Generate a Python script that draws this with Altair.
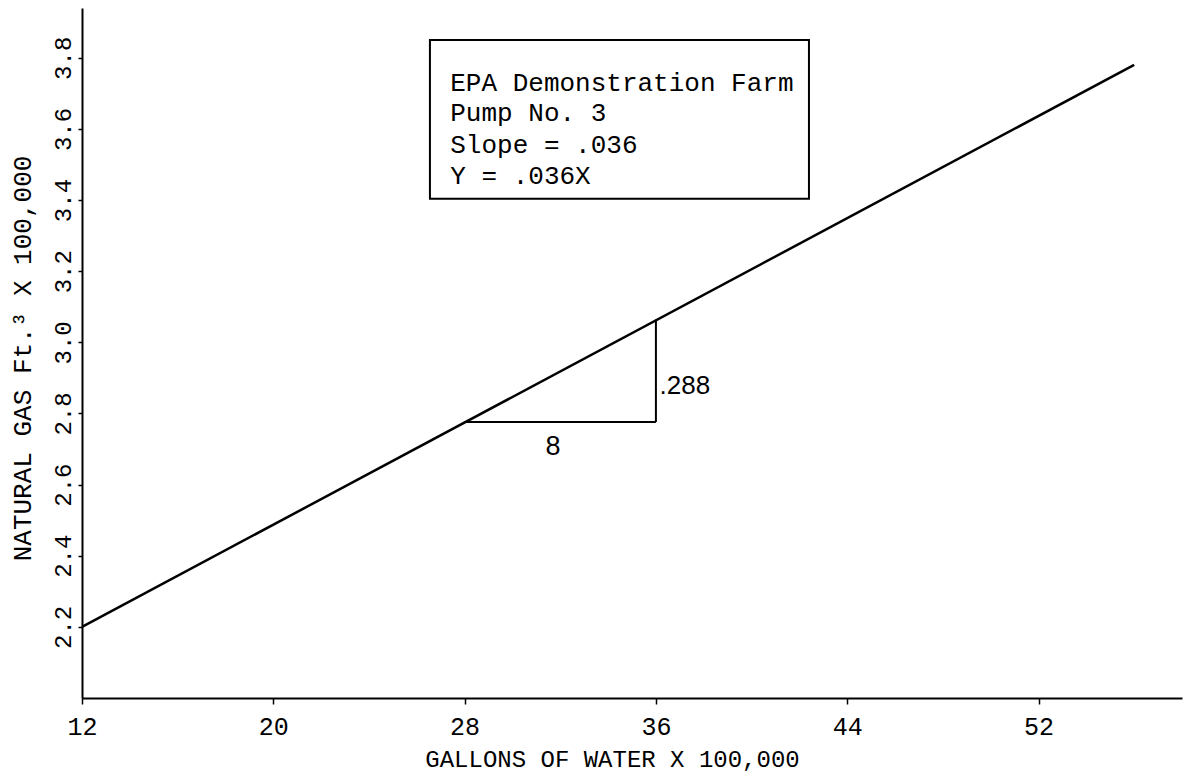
import altair as alt
import pandas as pd

# ---- data ----
X_TICKS = [12, 20, 28, 36, 44, 52]
Y_TICKS = [2.2, 2.4, 2.6, 2.8, 3.0, 3.2, 3.4, 3.6, 3.8]

LINE_X = [12, 56]
LINE_Y = [2.2, 3.78]

# slope triangle (run of 8, rise of .288)
TRI_X = [28, 36]
TRI_X2 = [36, 36]
TRI_Y = [2.776, 2.776]
TRI_Y2 = [2.776, 3.064]

TRI_LABELS = [".288", "8"]
TRI_LABEL_X = [36.15, 31.7]
TRI_LABEL_Y = [2.876, 2.707]

# legend box
BOX_X = [26.55]
BOX_X2 = [42.4]
BOX_Y = [3.404]
BOX_Y2 = [3.85]
BOX_LINES = ["EPA Demonstration Farm", "Pump No. 3", "Slope = .036", "Y = .036X"]
BOX_LINE_X = [27.4, 27.4, 27.4, 27.4]
BOX_LINE_Y = [3.73, 3.644, 3.555, 3.468]

X_TITLE = "GALLONS OF WATER X 100,000"
Y_TITLE = "NATURAL GAS Ft.\u00b3 X 100,000"

MONO = "Liberation Mono"
SANS = "Liberation Sans"

xs = alt.Scale(domain=[12, 58.0], nice=False, zero=False)
ys = alt.Scale(domain=[2.0, 3.94], nice=False, zero=False)

x_axis = alt.Axis(
    values=X_TICKS, title=X_TITLE, grid=False,
    labelFont=MONO, labelFontSize=25, labelColor="black", labelPadding=10,
    labelFlush=False, tickSize=6, tickColor="black", tickWidth=1.5,
    domainColor="black", domainWidth=2,
    titleFont=MONO, titleFontSize=24, titleFontWeight="normal", titleColor="black",
    titleX=530, titleY=61, titleBaseline="middle", titleAlign="center",
)
y_axis = alt.Axis(
    values=Y_TICKS, format=".1f", title=Y_TITLE, grid=False,
    labelFont=MONO, labelFontSize=24, labelColor="black", labelAngle=270,
    labelAlign="center", labelBaseline="bottom", labelPadding=3,
    tickSize=4, tickColor="black", tickWidth=1.5,
    domainColor="black", domainWidth=2,
    titleFont=MONO, titleFontSize=26, titleFontWeight="normal", titleColor="black",
    titleAngle=270, titleX=-60, titleY=350, titleAlign="center", titleBaseline="middle",
)

line_df = pd.DataFrame({"x": LINE_X, "y": LINE_Y})
line = alt.Chart(line_df).mark_line(color="black", strokeWidth=2.5).encode(
    x=alt.X("x:Q", scale=xs, axis=x_axis),
    y=alt.Y("y:Q", scale=ys, axis=y_axis),
)

tri_df = pd.DataFrame({"x": TRI_X, "x2": TRI_X2, "y": TRI_Y, "y2": TRI_Y2})
tri = alt.Chart(tri_df).mark_rule(color="black", strokeWidth=2).encode(
    x=alt.X("x:Q", scale=xs), x2="x2:Q",
    y=alt.Y("y:Q", scale=ys), y2="y2:Q",
)

tl_df = pd.DataFrame({"t": TRI_LABELS, "x": TRI_LABEL_X, "y": TRI_LABEL_Y})
tl_left = alt.Chart(tl_df.iloc[[0]]).mark_text(
    font=SANS, fontSize=26, color="black", align="left", baseline="middle"
).encode(x=alt.X("x:Q", scale=xs), y=alt.Y("y:Q", scale=ys), text="t:N")
tl_center = alt.Chart(tl_df.iloc[[1]]).mark_text(
    font=SANS, fontSize=27, color="black", align="center", baseline="middle"
).encode(x=alt.X("x:Q", scale=xs), y=alt.Y("y:Q", scale=ys), text="t:N")

box_df = pd.DataFrame({"x": BOX_X, "x2": BOX_X2, "y": BOX_Y, "y2": BOX_Y2})
box = alt.Chart(box_df).mark_rect(fill="white", stroke="black", strokeWidth=2).encode(
    x=alt.X("x:Q", scale=xs), x2="x2:Q",
    y=alt.Y("y:Q", scale=ys), y2="y2:Q",
)

bt_df = pd.DataFrame({"t": BOX_LINES, "x": BOX_LINE_X, "y": BOX_LINE_Y})
box_text = alt.Chart(bt_df).mark_text(
    font=MONO, fontSize=26, color="black", align="left", baseline="middle"
).encode(x=alt.X("x:Q", scale=xs), y=alt.Y("y:Q", scale=ys), text="t:N")

chart = alt.layer(line, tri, tl_left, tl_center, box, box_text).properties(
    width=1100, height=690,
    autosize=alt.AutoSizeParams(type="none"),
    padding={"left": 74, "top": 0, "right": 1, "bottom": 77},
    background="white",
).configure_view(stroke=None)

chart.save("out.html", embed_options={"renderer": "svg", "actions": False})
